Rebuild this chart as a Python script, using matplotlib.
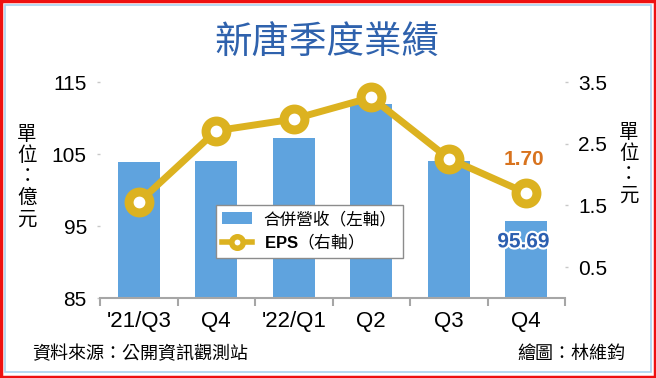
import matplotlib
matplotlib.use("Agg")
import matplotlib.pyplot as plt
import matplotlib.patheffects as pe
from matplotlib.patches import Rectangle
import numpy as np

plt.rcParams['font.family'] = ['Noto Sans CJK TC', 'DejaVu Sans']
plt.rcParams['mathtext.fontset'] = 'custom'
plt.rcParams['mathtext.rm'] = 'Noto Sans CJK TC'
plt.rcParams['mathtext.bf'] = 'Liberation Sans:bold'

# data
quarters = ["'21/Q3", "Q4", "'22/Q1", "Q2", "Q3", "Q4"]
revenue = [103.85, 103.99, 107.26, 111.94, 104.03, 95.69]   # 億元 (left axis)
eps = [1.55, 2.71, 2.90, 3.25, 2.26, 1.70]                  # 元 (right axis)
left_ticks = [85, 95, 105, 115]
right_ticks = [0.5, 1.5, 2.5, 3.5]

bar_col = '#5fa3de'
eps_col = '#dcb220'
title_col = '#2f62ad'
grey = '#a6a6a6'

fig = plt.figure(figsize=(6.56, 3.78), dpi=100)
fig.patch.set_facecolor('white')

# frame: red outer, light blue inner
fig.add_artist(Rectangle((0.002, 0.003), 0.996, 0.994, transform=fig.transFigure,
                         fill=False, edgecolor='#ee1111', linewidth=2.5))
fig.add_artist(Rectangle((0.0075, 0.016), 0.985, 0.97, transform=fig.transFigure,
                         fill=False, edgecolor='#a9d3f0', linewidth=1.2))

ax = fig.add_axes([100/656, 80/378, 465/656, 216/378])
x = np.arange(len(quarters))
ax.bar(x, revenue, width=0.54, color=bar_col, zorder=2, label='合併營收（左軸）')
ax.set_xlim(-0.5, len(quarters) - 0.5)
ax.set_ylim(85, 115)
ax.set_yticks(left_ticks)
ax.set_yticklabels([str(v) for v in left_ticks], fontfamily='Liberation Sans', fontsize=15)
ax.tick_params(axis='y', length=2.5, width=1, color='#c8c8c8', pad=7)

# category axis: ticks on boundaries, labels centered
ax.set_xticks(np.arange(len(quarters) + 1) - 0.5)
ax.set_xticklabels([])
ax.set_xticks(x, minor=True)
ax.set_xticklabels(quarters, minor=True, fontfamily='Liberation Sans', fontsize=16)
ax.tick_params(axis='x', which='major', length=6, width=1.5, color=grey)
ax.tick_params(axis='x', which='minor', length=0, pad=9)

for s in ['top', 'left', 'right']:
    ax.spines[s].set_visible(False)
ax.spines['bottom'].set_color(grey)
ax.spines['bottom'].set_linewidth(1.5)
ax.set_facecolor('none')

ax2 = ax.twinx()
ax2.plot(x, eps, color=eps_col, linewidth=5, marker='o', markersize=15,
         markerfacecolor='white', markeredgecolor=eps_col, markeredgewidth=6.5,
         zorder=3, label=r'$\mathbf{EPS}$（右軸）')
ax2.set_ylim(0, 3.5)
ax2.set_yticks(right_ticks)
ax2.set_yticklabels([str(v) for v in right_ticks], fontfamily='Liberation Sans', fontsize=15)
ax2.tick_params(axis='y', length=2.5, width=1, color='#c8c8c8', pad=7)
for s in ax2.spines.values():
    s.set_visible(False)

# data labels
ax2.annotate('1.70', (x[-1], eps[-1]), xytext=(-2, 24), textcoords='offset points',
             ha='center', va='center', color='#d8731e', fontsize=15,
             fontfamily='Liberation Sans', fontweight='bold', zorder=5)
ax.annotate('95.69', (x[-1], revenue[-1]), xytext=(-2, -15), textcoords='offset points',
            ha='center', va='center', color='#2c5fb0', fontsize=15, fontweight='bold',
            fontfamily='Liberation Sans', zorder=5,
            path_effects=[pe.withStroke(linewidth=3, foreground='white')])

# legend
h1, l1 = ax.get_legend_handles_labels()
h2, l2 = ax2.get_legend_handles_labels()
leg = ax2.legend(h1 + h2, l1 + l2, loc='upper left', bbox_to_anchor=(0.25, 0.43),
                 fancybox=False, framealpha=1, edgecolor='#8c8c8c', fontsize=12,
                 borderpad=0.35, labelspacing=0.25, handlelength=1.8, handletextpad=0.7,
                 borderaxespad=0, markerscale=0.55)
leg.get_frame().set_linewidth(1.0)
leg.set_zorder(10)
leg.get_lines()[0].set_markeredgewidth(4)
leg.get_lines()[0].set_linewidth(4)

# titles and side notes
fig.text(0.4985, 0.886, '新唐季度業績', ha='center', va='center', fontsize=27,
         color=title_col, fontweight='medium')
fig.text(0.0412, 0.532, '單\n位\n：\n億\n元', ha='center', va='center', fontsize=14,
         linespacing=1.0)
fig.text(0.9588, 0.566, '單\n位\n：\n元', ha='center', va='center', fontsize=14,
         linespacing=1.0)
fig.text(0.0488, 0.0635, '資料來源：公開資訊觀測站', ha='left', va='center', fontsize=13)
fig.text(0.953, 0.0635, '繪圖：林維鈞', ha='right', va='center', fontsize=13)

fig.savefig('out.png', dpi=100, facecolor='white')
